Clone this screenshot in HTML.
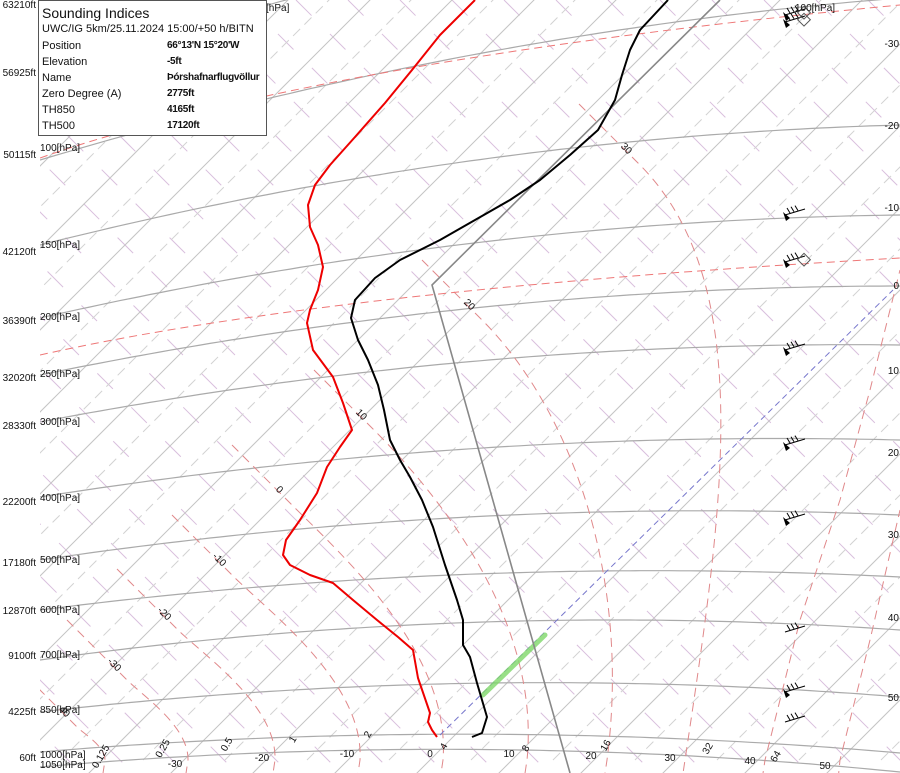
<!DOCTYPE html>
<html><head><meta charset="utf-8"><style>
html,body{margin:0;padding:0;background:#fff;width:900px;height:773px;overflow:hidden}
svg{display:block;font-family:"Liberation Sans",sans-serif}
#box{position:absolute;left:38px;top:0;width:227px;height:134px;border:1px solid #555;background:#fff;font-family:"Liberation Sans",sans-serif;font-size:11px;color:#111;overflow:hidden}
#box .t{font-size:14px;margin:4px 0 1px 3px}
#box .r{position:absolute;left:3px;white-space:nowrap}
#box .v{position:absolute;left:128px;font-weight:bold;font-size:10px;white-space:nowrap;letter-spacing:-0.3px}
</style></head><body>
<svg id="s" width="900" height="773" viewBox="0 0 900 773" xmlns="http://www.w3.org/2000/svg">
<defs><clipPath id="c"><rect x="40" y="0" width="860" height="773"/></clipPath></defs>
<g id="grid" clip-path="url(#c)"></g>
<g id="data" clip-path="url(#c)">
<line x1="483" y1="695" x2="545" y2="635" stroke="#7fd86a" stroke-width="5" stroke-linecap="round" opacity="0.8"/>
<polyline fill="none" stroke="#888" stroke-width="1.6" points="570,773 432,285 720,0"/>
<polyline fill="none" stroke="#000" stroke-width="2" stroke-linejoin="round" points="668,0 640,30 630,50 622,75 615,100 598,130 570,155 540,180 510,200 475,220 440,240 400,260 375,278 355,300 351,318 358,340 368,360 378,385 384,410 390,440 400,460 410,477 422,500 433,527 445,565 457,600 463,620 463,645 470,657 477,683 487,717 482,733 472,737"/>
<polyline fill="none" stroke="#e00" stroke-width="2" stroke-linejoin="round" points="475,0 440,35 412,70 385,103 355,137 330,165 315,185 308,205 310,227 318,245 323,267 318,290 310,310 307,323 313,350 333,377 343,403 352,430 340,447 327,467 317,493 300,520 286,540 283,555 290,565 310,575 333,583 353,600 377,620 398,637 413,650 418,678 430,713 428,722 432,730 437,737"/>
</g>
<g id="lab" font-size="10" fill="#111"></g>
</svg>
<div id="box">
<div class="t">Sounding Indices</div>
<div class="r" style="top:22px">UWC/IG 5km/25.11.2024 15:00/+50 h/BITN</div>
<div class="r" style="top:39px">Position</div><div class="v" style="top:39px">66°13'N 15°20'W</div>
<div class="r" style="top:55px">Elevation</div><div class="v" style="top:55px">-5ft</div>
<div class="r" style="top:71px">Name</div><div class="v" style="top:71px">Þórshafnarflugvöllur</div>
<div class="r" style="top:87px">Zero Degree (A)</div><div class="v" style="top:87px">2775ft</div>
<div class="r" style="top:103px">TH850</div><div class="v" style="top:103px">4165ft</div>
<div class="r" style="top:119px">TH500</div><div class="v" style="top:119px">17120ft</div>
</div>
<script>
var NS="http://www.w3.org/2000/svg",G=document.getElementById('grid'),L=document.getElementById('lab');
function el(p,t,a,txt){var e=document.createElementNS(NS,t);for(var k in a)e.setAttribute(k,a[k]);if(txt!=null)e.textContent=txt;p.appendChild(e);return e;}
for(var c=-900;c<1000;c+=52){el(G,'line',{x1:c,y1:0,x2:c+900,y2:900,stroke:'#d9bfdd','stroke-width':1,'stroke-dasharray':'22 26'});}
for(var T=-150;T<=60;T+=10){var x0=430+8.2*(T+5);el(G,'line',{x1:x0,y1:760,x2:x0+900,y2:-140,stroke:'#d2d2d2','stroke-width':1,'stroke-dasharray':'10 6'});}
for(var T=-150;T<=60;T+=10){var x0=430+8.2*T;el(G,'line',{x1:x0-20,y1:780,x2:x0+900,y2:-140,stroke:'#c4c4c4','stroke-width':1});}
var P=[[767,752,772],[752,736,753],[712,683,697],[660,620,630],[610,571,577],[560,512,515],[497,442,440],[422,352,345],[375,297,286],[318,230,215],[245,145,125],[160,33,-2],[75,-70,-110],[5,-150,-200]];
function quad(a,b,c,x){var x1=40,x2=600,x3=900;return a*(x-x2)*(x-x3)/((x1-x2)*(x1-x3))+b*(x-x1)*(x-x3)/((x2-x1)*(x2-x3))+c*(x-x1)*(x-x2)/((x3-x1)*(x3-x2));}
P.forEach(function(p,i){var a=p[0],b=p[1],cc=p[2];if(i<2){b=quad(a,(i==0?752:736),cc,600);}var pts=[];for(var x=40;x<=900;x+=10)pts.push(x+','+quad(a,b,cc,x).toFixed(1));el(G,'polyline',{points:pts.join(' '),fill:'none',stroke:'#aaa','stroke-width':1.2});});
var M=[[65,715,105],[115,668,188],[165,617,275],[220,563,360],[280,493,443],[362,418,527],[470,308,607],[627,152,685]];
M.forEach(function(m){var x0=m[0]+12,y0=m[1]+12,bx=m[2],h=760-y0,a=0.2*h,mm=0.42*h,f=Math.min(1,h/500);
var d='M'+(x0-60)+','+(y0-60)+' L'+x0+','+y0+' C'+(x0+a)+','+(y0+a)+' '+(bx+0.15*f*mm)+','+(760-mm)+' '+bx+',760 L'+(bx-3)+',780';
el(G,'path',{d:d,fill:'none',stroke:'#e0888a','stroke-width':1,'stroke-dasharray':'9 6'});});
el(G,'polyline',{points:'762,780 765,760 800,620 840,500 870,390 900,270',fill:'none',stroke:'#e0888a','stroke-width':1,'stroke-dasharray':'9 6'});
el(G,'polyline',{points:'838,780 840,760 870,640 900,510',fill:'none',stroke:'#e0888a','stroke-width':1,'stroke-dasharray':'9 6'});
el(G,'path',{d:'M40,355 Q330,290 900,258',fill:'none',stroke:'#e77','stroke-width':1,'stroke-dasharray':'8 5'});
el(G,'path',{d:'M40,158 Q320,60 900,5',fill:'none',stroke:'#e77','stroke-width':1,'stroke-dasharray':'8 5'});
el(G,'line',{x1:440,y1:735,x2:893,y2:290,stroke:'#77c','stroke-width':1,'stroke-dasharray':'6 4'});
[[15,1],[22,1],[215,0],[262,1],[350,0],[445,0],[520,0],[632,2],[692,0],[722,2]].forEach(function(w){var y=w[0];
el(L,'line',{x1:785,y1:y,x2:805,y2:y-6,stroke:'#000','stroke-width':1});
if(w[1]!=2)el(L,'path',{d:'M783,'+(y-3)+' L790,'+(y+3)+' L786,'+(y+6)+'Z',fill:'#000'});
for(var k=0;k<3;k++)el(L,'line',{x1:790+k*4,y1:y-2-k*1.2,x2:787+k*4,y2:y-7-k*1.2,stroke:'#000','stroke-width':1});
if(w[1]==1)el(L,'rect',{x:800,y:y-7,width:9,height:9,fill:'none',stroke:'#555',transform:'rotate(45 '+804+' '+(y-3)+')'});});
[['63210ft',8],['56925ft',76],['50115ft',158],['42120ft',255],['36390ft',324],['32020ft',381],['28330ft',429],['22200ft',505],['17180ft',566],['12870ft',614],['9100ft',659],['4225ft',715],['60ft',761]].forEach(function(t){el(L,'text',{x:36,y:t[1],'text-anchor':'end'},t[0]);});
[['100[hPa]',151],['150[hPa]',248],['200[hPa]',320],['250[hPa]',377],['300[hPa]',425],['400[hPa]',501],['500[hPa]',563],['600[hPa]',613],['700[hPa]',658],['850[hPa]',713],['1000[hPa]',758],['1050[hPa]',768]].forEach(function(t){el(L,'text',{x:40,y:t[1]},t[0]);});
el(L,'text',{x:266,y:11},'[hPa]');el(L,'text',{x:795,y:11},'100[hPa]');
[['-30',47],['-20',129],['-10',211],['0',289],['10',374],['20',456],['30',538],['40',621],['50',701]].forEach(function(t){el(L,'text',{x:899,y:t[1],'text-anchor':'end'},t[0]);});
[['-30',175,767],['-20',262,761],['-10',347,757],['0',430,757],['10',509,757],['20',591,759],['30',670,761],['40',750,764],['50',825,769]].forEach(function(t){el(L,'text',{x:t[1],y:t[2],'text-anchor':'middle'},t[0]);});
[['0.125',100,760],['0.25',162,752],['0.5',226,748],['1',292,743],['2',367,738],['4',443,750],['8',525,752],['16',605,749],['32',707,752],['64',775,760]].forEach(function(t){el(L,'text',{x:t[1],y:t[2],'text-anchor':'middle',transform:'rotate(-60 '+t[1]+' '+(t[2]-4)+')'},t[0]);});
[['40',65,715],['-30',115,668],['-20',165,617],['-10',220,563],['0',280,493],['10',362,418],['20',470,308],['30',627,152]].forEach(function(t){el(L,'text',{x:t[1],y:t[2],'text-anchor':'middle',transform:'rotate(45 '+t[1]+' '+(t[2]-4)+')'},t[0]);});
</script>
</body></html>
